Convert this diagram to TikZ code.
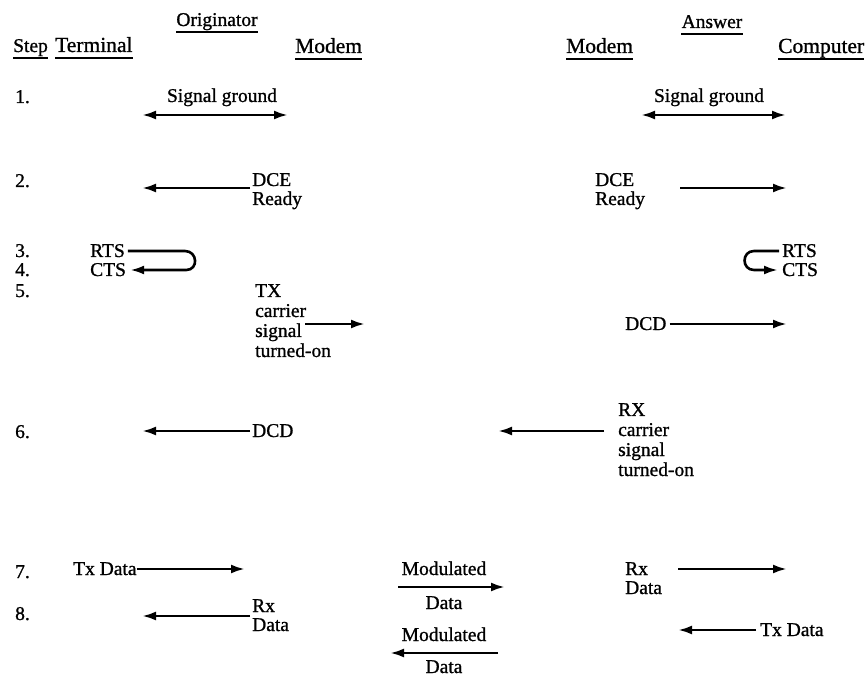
\documentclass[tikz,border=0pt]{standalone}
\usepackage{fontspec}
\setmainfont{Liberation Serif}[FakeBold=1]
\usetikzlibrary{arrows.meta,positioning}

\begin{document}
\begin{tikzpicture}[x=1pt,y=-1pt]

\tikzset{lbl/.style={inner sep=0pt, font=\fontsize{19.5}{20}\selectfont},
  num/.style={lbl, anchor=base west},
  head/.style={lbl, anchor=base west, font=\fontsize{21.5}{24}\selectfont},
  arr/.style={line width=2.6pt, -{Latex[length=14pt,width=9pt]}},
  dblarr/.style={line width=2.6pt, {Latex[length=14pt,width=9pt]}-{Latex[length=14pt,width=9pt]}},
  uline/.style={line width=1.8pt}}

\useasboundingbox (0,0) rectangle (868,676);

% headings
\node[lbl, anchor=base] (orig) at (217,26) {Originator};
\node[lbl, anchor=base] (answ) at (712,28) {Answer};
\node[lbl, anchor=base west] (step) at (13,52) {Step};
\node[head] (term) at (55,52) {Terminal};
\node[head] (omod) at (295,53) {Modem};
\node[head] (amod) at (566,53) {Modem};
\node[head] (comp) at (778,53) {Computer};
\foreach \h in {orig,answ,step,term,omod,amod,comp}
  \draw[uline] ([yshift=-6pt]\h.base west) -- ([yshift=-6pt]\h.base east);

% step numbers
\node[num] (s1) at (15,103) {1.};
\node[num] (s2) at (15,187) {2.};
\node[num] (s3) at (15,257) {3.};
\node[num] (s4) at (15,276) {4.};
\node[num] (s5) at (15,297) {5.};
\node[num] (s6) at (15,438) {6.};
\node[num] (s7) at (15,578) {7.};
\node[num] (s8) at (15,620) {8.};

% 1.
\node[lbl, anchor=base] (gndL) at (222,102) {Signal ground};
\coordinate (gndLa) at (142,115);
\coordinate (gndLb) at (288,115);
\draw[dblarr] (gndLa) -- (gndLb);
\node[lbl, anchor=base] (gndR) at (709,102) {Signal ground};
\coordinate (gndRa) at (641,115);
\coordinate (gndRb) at (786,115);
\draw[dblarr] (gndRa) -- (gndRb);

% 2.
\node[num] (dceL) at (252,186) {DCE};
\node[num] (rdyL) at ([yshift=-19pt]dceL.base west) {Ready};
\coordinate (dceLend) at (142,188);
\draw[arr] (250,188) -- (dceLend);
\node[num] (dceR) at (595,186) {DCE};
\node[num] (rdyR) at ([yshift=-19pt]dceR.base west) {Ready};
\coordinate (dceRa) at (680,188);
\coordinate (dceRb) at (787,188);
\draw[arr] (dceRa) -- (dceRb);

% 3. and 4.
\node[num] (rtsL) at (90,257) {RTS};
\node[num] (ctsL) at (90,276) {CTS};
\draw[arr] ([xshift=3pt,yshift=6pt]rtsL.base east) -- ++(57,0)
  to[out=0,in=0,looseness=1.7] ([xshift=60pt,yshift=6pt]ctsL.base east)
  -- ([xshift=4pt,yshift=6pt]ctsL.base east);
\node[num] (rtsR) at (782,257) {RTS};
\node[num] (ctsR) at (782,276) {CTS};
\draw[arr] ([xshift=-3pt,yshift=6pt]rtsR.base west) -- ++(-25,0)
  to[out=180,in=180,looseness=1.7] ([xshift=-28pt,yshift=6pt]ctsR.base west)
  -- ([xshift=-4pt,yshift=6pt]ctsR.base west);

% 5.
\node[num] (txL) at (255,297) {TX};
\node[num] (carL) at ([yshift=-20pt]txL.base west) {carrier};
\node[num] (sigL) at ([yshift=-20pt]carL.base west) {signal};
\node[num] (onL) at ([yshift=-20pt]sigL.base west) {turned-on};
\coordinate (txLa) at (305,324);
\coordinate (txLb) at (365,324);
\draw[arr] (txLa) -- (txLb);
\node[num] (dcdR) at (625,330) {DCD};
\coordinate (dcdRb) at (787,324);
\draw[arr] ([xshift=3pt,yshift=6pt]dcdR.base east) -- (dcdRb);

% 6.
\node[num] (dcdL) at (252,437) {DCD};
\coordinate (dcdLb) at (142,431);
\draw[arr] ([xshift=-2pt,yshift=6pt]dcdL.base west) -- (dcdLb);
\node[num] (rxR) at (618,416) {RX};
\node[num] (carR) at ([yshift=-20pt]rxR.base west) {carrier};
\node[num] (sigR) at ([yshift=-20pt]carR.base west) {signal};
\node[num] (onR) at ([yshift=-20pt]sigR.base west) {turned-on};
\coordinate (rxRa) at (604,431);
\coordinate (rxRb) at (498,431);
\draw[arr] (rxRa) -- (rxRb);

% 7.
\node[num] (txdL) at (73,575) {Tx Data};
\coordinate (txdLb) at (245,569);
\draw[arr] ([yshift=6pt]txdL.base east) -- (txdLb);
\node[lbl, anchor=base] (modA) at (444,575) {Modulated};
\node[lbl, anchor=base] (datA) at (444,609) {Data};
\coordinate (modAa) at (398,587);
\coordinate (modAb) at (505,587);
\draw[arr] (modAa) -- (modAb);
\node[num] (rxdR) at (625,575) {Rx};
\node[num] (datR) at ([yshift=-19pt]rxdR.base west) {Data};
\coordinate (rxdRa) at (678,569);
\coordinate (rxdRb) at (787,569);
\draw[arr] (rxdRa) -- (rxdRb);

% 8.
\node[num] (rxdL) at (252,612) {Rx};
\node[num] (datL) at ([yshift=-19pt]rxdL.base west) {Data};
\coordinate (rxdLa) at (250,616);
\coordinate (rxdLb) at (142,616);
\draw[arr] (rxdLa) -- (rxdLb);
\node[lbl, anchor=base] (modB) at (444,641) {Modulated};
\node[lbl, anchor=base] (datB) at (444,673) {Data};
\coordinate (modBa) at (498,653);
\coordinate (modBb) at (390,653);
\draw[arr] (modBa) -- (modBb);
\node[num] (txdR) at (760,636) {Tx Data};
\coordinate (txdRb) at (678,630);
\draw[arr] ([xshift=-4pt,yshift=6pt]txdR.base west) -- (txdRb);

\end{tikzpicture}
\end{document}
